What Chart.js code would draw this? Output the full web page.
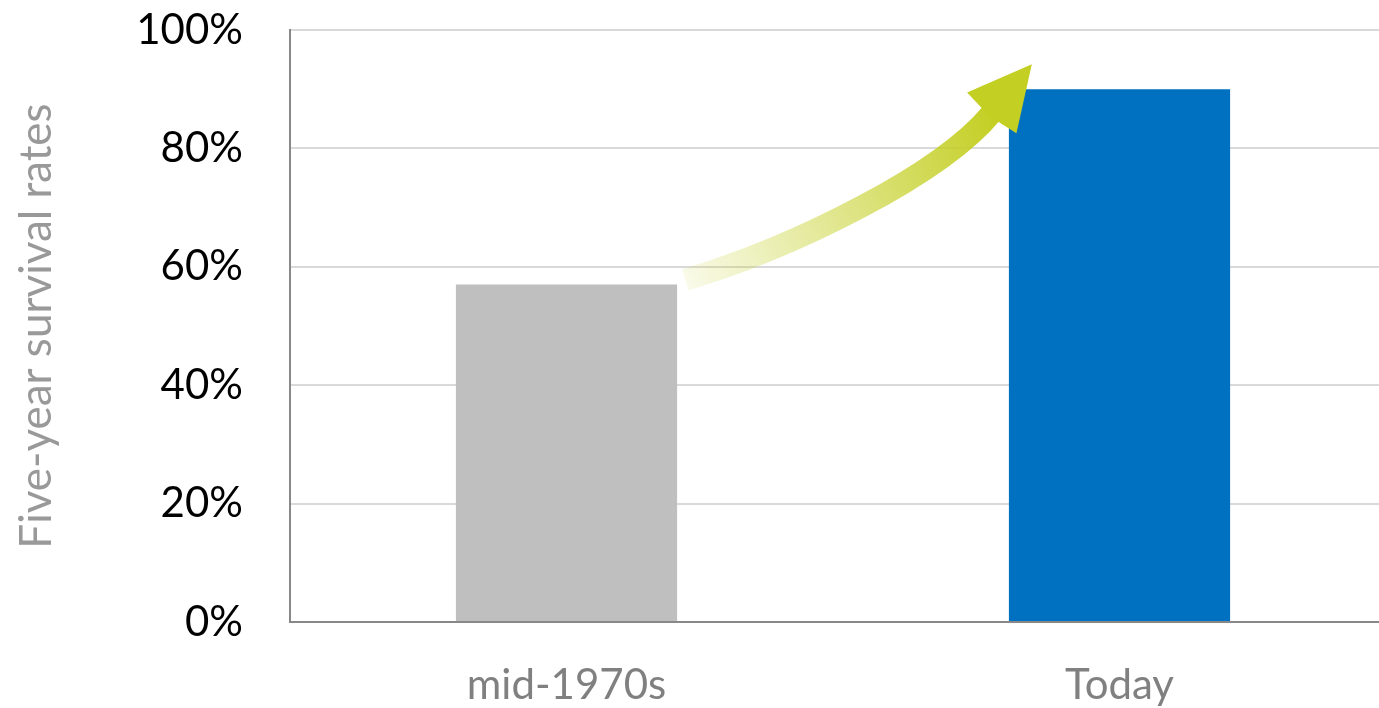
<!DOCTYPE html>
<html>
<head>
  <title>Five-year survival rates</title>
  <script src="https://cdn.jsdelivr.net/npm/chart.js"></script>
  <style>
    html, body { margin: 0; padding: 0; overflow: hidden; background: #fff; }
    #wrap { width: 1396px; height: 708px; position: relative; }
  </style>
</head>
<body>
  <div id="wrap">
    <canvas id="survivalChart"></canvas>
  </div>

  <script>
    // Survival rate by period (percent)
    const periods = ['mid-1970s', 'Today'];
    const survivalRates = [57, 90];
    const barColors = ['#bfbfbf', '#0070c0'];
    const yTicks = [0, 20, 40, 60, 80, 100];

    // Curved arrow between the bars, in (category index, percent) units
    const arrowStart = [0.215, 57.8];
    const arrowEnd = [0.769, 86.0];

    const fontFamily = 'Lato, "Open Sans", sans-serif';

    // Draws the gradient arrow on top of the bars
    const arrowPlugin = {
      id: 'growthArrow',
      afterDatasetsDraw(chart) {
        const ctx = chart.ctx;
        const xs = chart.scales.x, ys = chart.scales.y;
        const p0 = { x: xs.getPixelForValue(arrowStart[0]), y: ys.getPixelForValue(arrowStart[1]) };
        const p3 = { x: xs.getPixelForValue(arrowEnd[0]), y: ys.getPixelForValue(arrowEnd[1]) };
        const dx = p3.x - p0.x;
        // direction of the shaft at the head
        const dir = { x: 0.636, y: -0.771 };
        const c1 = { x: p0.x + dx * 0.36, y: p0.y - dx * 0.108 };
        const c2 = { x: p3.x - dir.x * 80, y: p3.y - dir.y * 80 };

        ctx.save();
        const grad = ctx.createLinearGradient(p0.x, p0.y, p3.x, p3.y);
        grad.addColorStop(0, 'rgba(196, 207, 36, 0.10)');
        grad.addColorStop(0.5, 'rgba(196, 207, 36, 0.55)');
        grad.addColorStop(1, 'rgba(196, 207, 36, 1)');
        ctx.strokeStyle = grad;
        ctx.lineWidth = 22;
        ctx.lineCap = 'butt';
        ctx.beginPath();
        ctx.moveTo(p0.x, p0.y);
        ctx.bezierCurveTo(c1.x, c1.y, c2.x, c2.y, p3.x, p3.y);
        ctx.stroke();

        // head
        const len = 63, half = 32;
        const perp = { x: -dir.y, y: dir.x };
        ctx.fillStyle = '#c4cf24';
        ctx.beginPath();
        ctx.moveTo(p3.x + dir.x * len, p3.y + dir.y * len);
        ctx.lineTo(p3.x + perp.x * half, p3.y + perp.y * half);
        ctx.lineTo(p3.x - dir.x * 4, p3.y - dir.y * 4);
        ctx.lineTo(p3.x - perp.x * half, p3.y - perp.y * half);
        ctx.closePath();
        ctx.fill();
        ctx.restore();
      }
    };

    new Chart(document.getElementById('survivalChart'), {
      type: 'bar',
      data: {
        labels: periods,
        datasets: [{
          data: survivalRates,
          backgroundColor: barColors,
          borderWidth: 0,
          barPercentage: 0.4,
          categoryPercentage: 1.0
        }]
      },
      options: {
        responsive: true,
        maintainAspectRatio: false,
        animation: false,
        layout: { padding: { top: 30, right: 0, bottom: 0, left: 0 } },
        plugins: {
          legend: { display: false },
          tooltip: { enabled: false }
        },
        scales: {
          x: {
            grid: { display: false, drawTicks: false },
            border: { color: '#888888', width: 2 },
            ticks: {
              color: '#808080',
              padding: 38,
              font: { family: fontFamily, size: 42 }
            },
            afterFit(scale) { scale.height = 86; }
          },
          y: {
            min: 0,
            max: 100,
            afterBuildTicks(scale) {
              scale.ticks = yTicks.map(v => ({ value: v }));
            },
            grid: { color: '#d9d9d9', lineWidth: 2, drawTicks: false },
            border: { color: '#888888', width: 2 },
            ticks: {
              color: '#000000',
              padding: 47,
              font: { family: fontFamily, size: 42 },
              callback: v => v + '%'
            },
            title: {
              display: true,
              text: 'Five-year survival rates',
              color: '#999999',
              padding: { top: 10, bottom: 0 },
              font: { family: fontFamily, size: 44 }
            },
            afterFit(scale) {
              // keep the tick padding from pushing the plot area down
              scale.width = 290;
              scale.paddingTop = 0;
              scale.paddingBottom = 0;
            }
          }
        }
      },
      plugins: [arrowPlugin]
    });
  </script>
</body>
</html>
